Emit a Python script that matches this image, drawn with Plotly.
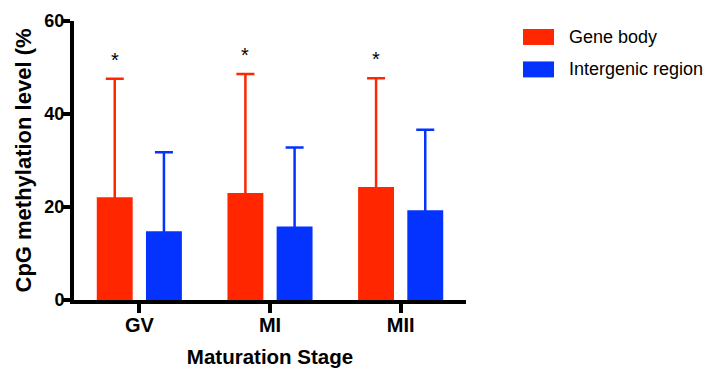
import plotly.graph_objects as go

stages = ["GV", "MI", "MII"]
gene_body = [22.1, 23.0, 24.3]
gene_body_sd = [25.5, 25.6, 23.4]
intergenic = [14.8, 15.8, 19.3]
intergenic_sd = [17.0, 17.0, 17.3]
significance = ["*", "*", "*"]

RED = "#FF2600"
BLUE = "#0433FF"
FONT = "Liberation Sans, Arial, sans-serif"

# the page adds an 8px body margin, so the figure is drawn 8px smaller and
# all layout pixel positions below are given in page coordinates minus OFF
OFF = 8
W, H = 714 - OFF, 373 - OFF
L, T, PW, PH = 74 - OFF, 21 - OFF, 392, 279.5

fig = go.Figure()
# error bars only go upward visibly; the lower arm runs down inside the bar to zero
fig.add_trace(go.Bar(
    x=stages, y=gene_body, name="Gene body", marker=dict(color=RED, line=dict(width=0)),
    error_y=dict(type="data", symmetric=False, array=gene_body_sd, arrayminus=gene_body,
                 color=RED, thickness=2.5, width=9),
    showlegend=False,
))
fig.add_trace(go.Bar(
    x=stages, y=intergenic, name="Intergenic region", marker=dict(color=BLUE, line=dict(width=0)),
    error_y=dict(type="data", symmetric=False, array=intergenic_sd, arrayminus=intergenic,
                 color=BLUE, thickness=2.5, width=9),
    showlegend=False,
))

bargap = 0.247
slot = (1 - bargap) / 2
px_per_cat = PW / 3.0
for s, v, e, t in zip(stages, gene_body, gene_body_sd, significance):
    fig.add_annotation(x=s, y=v + e, text=t, showarrow=False, yanchor="bottom",
                       xshift=-slot / 2 * px_per_cat, yshift=6,
                       font=dict(family=FONT, size=20, color="black"))

def px_x(p):
    return (p - OFF - L) / PW

def px_y(p):
    return 1 - (p - OFF - T) / PH

# legend (drawn manually to match large swatches)
legend_items = [("Gene body", RED), ("Intergenic region", BLUE)]
for i, (name, col) in enumerate(legend_items):
    top_px = 29 + i * 32.5
    fig.add_shape(type="rect", xref="paper", yref="paper",
                  x0=px_x(523), x1=px_x(554), y0=px_y(top_px + 16), y1=px_y(top_px),
                  fillcolor=col, line=dict(width=0))
    fig.add_annotation(xref="paper", yref="paper", x=px_x(567), y=px_y(top_px + 8),
                       text=name, showarrow=False, xanchor="left", yanchor="middle",
                       font=dict(family=FONT, size=18, color="black"))

# y-axis title (the closing bracket is clipped in the original)
fig.add_annotation(xref="paper", yref="paper", x=px_x(24), y=px_y(295),
                   text="<b>CpG methylation level (%</b>", textangle=-90, showarrow=False,
                   xanchor="center", yanchor="bottom",
                   font=dict(family=FONT, size=22, color="black"))

fig.update_layout(
    width=W, height=H,
    margin=dict(l=L, r=W - L - PW, t=T, b=H - T - PH),
    paper_bgcolor="white", plot_bgcolor="white",
    barmode="group", bargap=bargap, bargroupgap=0.27,
    font=dict(family=FONT, color="black"),
    xaxis=dict(
        range=[-0.5, 2.5], showline=True, linewidth=4, linecolor="black",
        ticks="outside", ticklen=9, tickwidth=4, tickcolor="black",
        showgrid=False, zeroline=False, automargin=False, ticklabelstandoff=-5,
        tickfont=dict(family=FONT, size=20, weight="bold"),
        title=dict(text="<b>Maturation Stage</b>", font=dict(family=FONT, size=20.5), standoff=16),
    ),
    yaxis=dict(
        range=[0, 60], tickvals=[0, 20, 40, 60], showline=True, linewidth=4, linecolor="black",
        ticks="outside", ticklen=8, tickwidth=4, tickcolor="black",
        showgrid=False, zeroline=False, automargin=False, ticklabelstandoff=-6,
        tickfont=dict(family=FONT, size=18, weight="bold"),
    ),
)

fig.write_html("out.html")
